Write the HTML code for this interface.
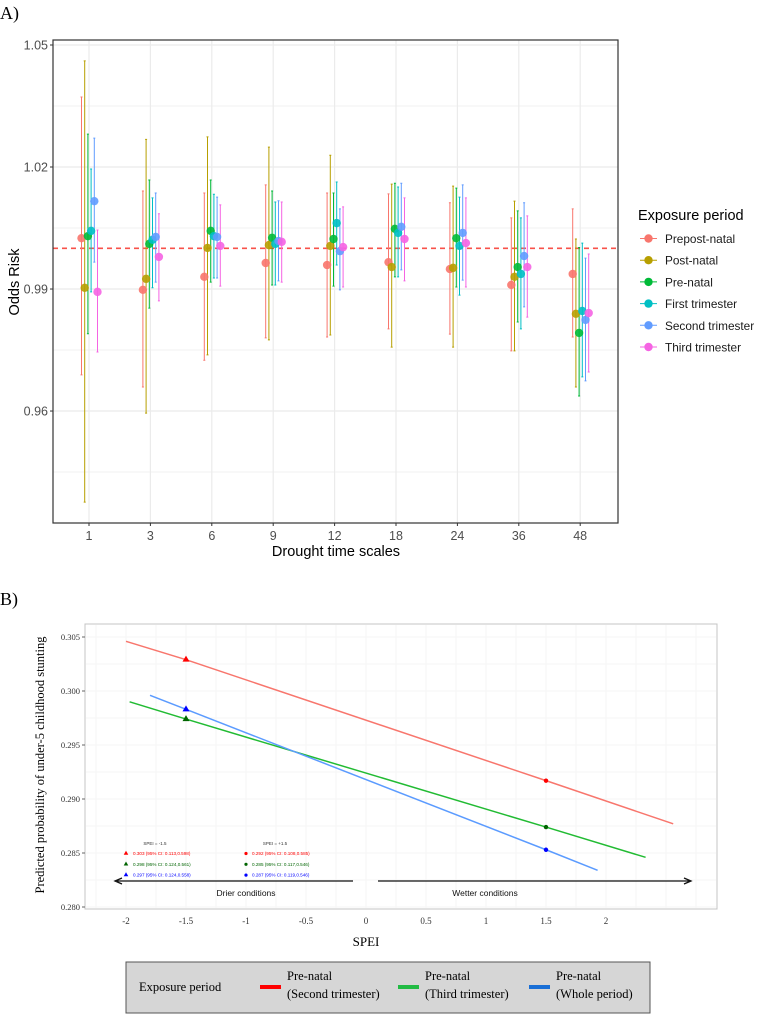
<!DOCTYPE html>
<html><head><meta charset="utf-8"><style>
html,body{margin:0;padding:0;background:#fff;}
svg{display:block;font-family:"Liberation Sans",sans-serif;}
.serif{font-family:"Liberation Serif",serif;}
</style></head><body>
<svg id="fig" width="757" height="1015" viewBox="0 0 757 1015" xmlns="http://www.w3.org/2000/svg">
<text class="serif" x="0" y="19" font-size="18" fill="#000">A)</text>
<text class="serif" x="0" y="605" font-size="18" fill="#000">B)</text>
<g id="gA"></g>
<g id="gB"></g>
</svg>
<script>
// ---- Panel A data ----
const catsA = ["1","3","6","9","12","18","24","36","48"];
const seriesA = ["Prepost-natal","Post-natal","Pre-natal","First trimester","Second trimester","Third trimester"];
const estPrepost = [1.0025,0.9898,0.9930,0.9964,0.9959,0.9966,0.9949,0.9910,0.9937];
const loPrepost  = [0.9689,0.9659,0.9725,0.9780,0.9782,0.9802,0.9789,0.9748,0.9782];
const hiPrepost  = [1.0372,1.0141,1.0136,1.0156,1.0136,1.0134,1.0112,1.0075,1.0097];
const estPost = [0.9903,0.9925,1.0001,1.0008,1.0006,0.9954,0.9952,0.9930,0.9839];
const loPost  = [0.9376,0.9595,0.9738,0.9775,0.9787,0.9757,0.9757,0.9748,0.9659];
const hiPost  = [1.0461,1.0268,1.0274,1.0249,1.0229,1.0158,1.0153,1.0116,1.0023];
const estPre = [1.0030,1.0011,1.0043,1.0026,1.0023,1.0048,1.0025,0.9954,0.9792];
const loPre  = [0.9790,0.9853,0.9917,0.9910,0.9907,0.9930,0.9905,0.9819,0.9637];
const hiPre  = [1.0281,1.0168,1.0168,1.0141,1.0136,1.0160,1.0148,1.0092,1.0002];
const estFirst = [1.0043,1.0021,1.0030,1.0011,1.0062,1.0038,1.0006,0.9937,0.9846];
const loFirst  = [0.9893,0.9903,0.9927,0.9910,0.9959,0.9930,0.9885,0.9802,0.9684];
const hiFirst  = [1.0195,1.0124,1.0133,1.0114,1.0163,1.0151,1.0126,1.0075,1.0013];
const estSecond = [1.0116,1.0028,1.0028,1.0018,0.9993,1.0053,1.0038,0.9981,0.9824];
const loSecond  = [0.9966,0.9917,0.9927,0.9920,0.9898,0.9947,0.9922,0.9856,0.9674];
const hiSecond  = [1.0271,1.0136,1.0126,1.0117,1.0097,1.0160,1.0156,1.0112,0.9976];
const estThird = [0.9893,0.9979,1.0006,1.0016,1.0003,1.0023,1.0013,0.9954,0.9841];
const loThird  = [0.9745,0.9871,0.9907,0.9917,0.9905,0.9920,0.9905,0.9831,0.9696];
const hiThird  = [1.0045,1.0085,1.0107,1.0114,1.0102,1.0124,1.0124,1.0080,0.9986];
const yTicksA = [0.96,0.99,1.02,1.05];
const yMinorA = [0.945,0.975,1.005,1.035];
const refA = 1.0;

// ---- Panel B data ----
const seriesB = ["Pre-natal (Second trimester)","Pre-natal (Third trimester)","Pre-natal (Whole period)"];
const xSecond = [-2.0,-1.5,1.5,2.56];
const ySecond = [0.3046,0.3029,0.2917,0.2877];
const xThird = [-1.97,-1.5,1.5,2.33];
const yThird = [0.2990,0.2974,0.2874,0.2846];
const xWhole = [-1.8,-1.5,1.5,1.93];
const yWhole = [0.2996,0.2983,0.2853,0.2834];
const xTicksB = [-2,-1.5,-1,-0.5,0,0.5,1,1.5,2];
const xTickLabelsB = ["-2","-1.5","-1","-0.5","0","0.5","1","1.5","2"];
const yTicksB = [0.280,0.285,0.290,0.295,0.300,0.305];
const yTickLabelsB = ["0.280","0.285","0.290","0.295","0.300","0.305"];
const annLeft = ["0.303 (95% CI: 0.113,0.598)","0.298 (95% CI: 0.124,0.561)","0.297 (95% CI: 0.124,0.558)"];
const annRight = ["0.292 (95% CI: 0.108,0.585)","0.285 (95% CI: 0.117,0.546)","0.287 (95% CI: 0.119,0.546)"];

const NS="http://www.w3.org/2000/svg";
function mk(tag,attrs,parent,text){const e=document.createElementNS(NS,tag);for(const k in attrs)e.setAttribute(k,attrs[k]);if(text!==undefined)e.textContent=text;parent.appendChild(e);return e;}

// ===== Panel A =====
(function(){
const g=document.getElementById('gA');
const L=53,R=618,T=40,B=523;
const yA=v=>45+(1.05-v)*4067;
const xA=i=>89+61.4*i;
mk('rect',{x:L,y:T,width:R-L,height:B-T,fill:'#fff'},g);
yMinorA.forEach(v=>{const l=mk('line',{x1:L,x2:R,y1:yA(v),y2:yA(v),stroke:'#f2f2f2','stroke-width':1},g);});
yTicksA.forEach(v=>{const l=mk('line',{x1:L,x2:R,y1:yA(v),y2:yA(v),stroke:'#ebebeb','stroke-width':1.2},g);});
catsA.forEach((c,i)=>{const l=mk('line',{x1:xA(i),x2:xA(i),y1:T,y2:B,stroke:'#ebebeb','stroke-width':1.2},g);});
const ref=mk('line',{x1:L,x2:R,y1:yA(refA),y2:yA(refA),stroke:'#f8524a','stroke-width':1.6,'stroke-dasharray':'5,4'},g);


const colors=['#F8766D','#B79F00','#00BA38','#00BFC4','#619CFF','#F564E3'];
const est=[estPrepost,estPost,estPre,estFirst,estSecond,estThird];
const lo=[loPrepost,loPost,loPre,loFirst,loSecond,loThird];
const hi=[hiPrepost,hiPost,hiPre,hiFirst,hiSecond,hiThird];
for(let s=0;s<6;s++){
  for(let i=0;i<catsA.length;i++){
    const x=xA(i)+(s-2.5)*3.2+0.5;
    const eb=mk('path',{d:`M${x-1},${yA(hi[s][i])}H${x+1}M${x},${yA(hi[s][i])}V${yA(lo[s][i])}M${x-1},${yA(lo[s][i])}H${x+1}`,stroke:colors[s],'stroke-width':1,fill:'none'},g);
    
    
  }
}
for(let s=0;s<6;s++){
  for(let i=0;i<catsA.length;i++){
    const x=xA(i)+(s-2.5)*3.2+0.5;
    const p=mk('circle',{cx:x,cy:yA(est[s][i]),r:4.2,fill:colors[s],'fill-opacity':0.9},g);
    
    
  }
}
const fr=mk('rect',{x:L,y:T,width:R-L,height:B-T,fill:'none',stroke:'#333','stroke-width':1.2},g);


yTicksA.forEach(v=>{
  mk('line',{x1:L-3,x2:L,y1:yA(v),y2:yA(v),stroke:'#333'},g);
  const t=mk('text',{x:L-5,y:yA(v)+4.5,'text-anchor':'end','font-size':12.5,fill:'#4d4d4d'},g,v.toFixed(2));
  
  
});
catsA.forEach((c,i)=>{
  mk('line',{x1:xA(i),x2:xA(i),y1:B,y2:B+3,stroke:'#333'},g);
  const t=mk('text',{x:xA(i),y:B+17,'text-anchor':'middle','font-size':12.5,fill:'#4d4d4d'},g,c);
  
  
});
const xt=mk('text',{x:336,y:556,'text-anchor':'middle','font-size':14.5,fill:'#000'},g,'Drought time scales');


const yt=mk('text',{x:0,y:0,'text-anchor':'middle','font-size':14.5,fill:'#000',transform:'translate(19,282) rotate(-90)'},g,'Odds Risk');


const lt=mk('text',{x:638,y:220,'font-size':14.5,fill:'#000'},g,'Exposure period');


seriesA.forEach((s,k)=>{
  const y=238.5+k*21.7;
  const le=mk('g',{},g);
  
  
  mk('line',{x1:640,x2:657,y1:y,y2:y,stroke:colors[k],'stroke-width':1},le);
  mk('circle',{cx:648.5,cy:y,r:4.2,fill:colors[k]},le);
  mk('text',{x:665,y:y+4.5,'font-size':11.8,fill:'#1a1a1a'},le,s);
});
})();

// ===== Panel B =====
(function(){
const g=document.getElementById('gB');
const L=85,R=717,T=624,B=909;
const xB=v=>366+120*v;
const yB=v=>637+(0.305-v)*10800;
mk('rect',{x:L,y:T,width:R-L,height:B-T,fill:'#fff',stroke:'#c4c4c4','stroke-width':1},g);
for(let v=0.2775;v<0.3075;v+=0.0025){const y=yB(v);if(y>T&&y<B){const l=mk('line',{x1:L+1,x2:R-1,y1:y,y2:y,stroke:'#f5f5f5','stroke-width':1},g);}}
for(let v=-2.5;v<=3;v+=0.25){const x=xB(v);if(x>L&&x<R){const l=mk('line',{x1:x,x2:x,y1:T+1,y2:B-1,stroke:'#f5f5f5','stroke-width':1},g);}}
const lc=['#f8766d','#22bb33','#5b9bff'];
const mc=['#ff0000','#006400','#0000ff'];
const xs=[xSecond,xThird,xWhole], ys=[ySecond,yThird,yWhole];
for(let s=0;s<3;s++){
  const pts=xs[s].map((x,i)=>xB(x)+','+yB(ys[s][i])).join(' ');
  const pl=mk('polyline',{points:pts,fill:'none',stroke:lc[s],'stroke-width':1.5},g);
  
  
}
for(let s=0;s<3;s++){
  const x1=xB(xs[s][1]),y1=yB(ys[s][1]);
  const tr=mk('path',{d:`M${x1},${y1-4}L${x1+3.5},${y1+2}L${x1-3.5},${y1+2}Z`,fill:mc[s]},g);
  
  
  const x2=xB(xs[s][2]),y2=yB(ys[s][2]);
  const dm=mk('circle',{cx:x2,cy:y2,r:2.2,fill:mc[s]},g);
  
  
}
const h1=mk('text',{x:155,y:845,'text-anchor':'middle','font-size':4.5,fill:'#333'},g,'SPEI = -1.5');


const h2=mk('text',{x:275,y:845,'text-anchor':'middle','font-size':4.5,fill:'#333'},g,'SPEI = +1.5');


for(let k=0;k<3;k++){
  const y=853.5+k*10.8;
  mk('path',{d:`M126,${y-2.8}L128.3,${y+1.2}L123.7,${y+1.2}Z`,fill:mc[k]},g);
  const a=mk('text',{x:133,y:y+1.5,'font-size':4.6,fill:mc[k]},g,annLeft[k]);
  
  
  mk('circle',{cx:246,cy:y,r:1.6,fill:mc[k]},g);
  const b=mk('text',{x:252,y:y+1.5,'font-size':4.6,fill:mc[k]},g,annRight[k]);
  
  
}
const a1=mk('path',{d:'M353,881H117M122,878L115,881L122,884',stroke:'#111','stroke-width':1.3,fill:'none'},g);


const a2=mk('path',{d:'M378,881H690M684,878L691,881L684,884',stroke:'#111','stroke-width':1.3,fill:'none'},g);


const d1=mk('text',{x:246,y:896,'text-anchor':'middle','font-size':8.5,fill:'#111'},g,'Drier conditions');


const d2=mk('text',{x:485,y:896,'text-anchor':'middle','font-size':8.5,fill:'#111'},g,'Wetter conditions');


yTicksB.forEach((v,i)=>{
  mk('line',{x1:L-3,x2:L,y1:yB(v),y2:yB(v),stroke:'#666'},g);
  const t=mk('text',{x:L-5,y:yB(v)+3,'text-anchor':'end','font-size':8.5,fill:'#333',class:'serif'},g,yTickLabelsB[i]);
  
  
});
xTicksB.forEach((v,i)=>{
  const t=mk('text',{x:xB(v),y:924,'text-anchor':'middle','font-size':9,fill:'#333',class:'serif'},g,xTickLabelsB[i]);
  
  
});
const xt=mk('text',{x:366,y:946,'text-anchor':'middle','font-size':13,fill:'#000',class:'serif'},g,'SPEI');


const yt=mk('text',{x:0,y:0,'text-anchor':'middle','font-size':12.5,fill:'#000',class:'serif',transform:'translate(44,765) rotate(-90)'},g,'Predicted probability of under-5 childhood stunting');


const lg=mk('g',{},g);


mk('rect',{x:126,y:962,width:524,height:51,fill:'#d6d6d6',stroke:'#555','stroke-width':1},lg);
mk('text',{x:139,y:991,'font-size':12.5,fill:'#000',class:'serif'},lg,'Exposure period');
const lcol=['#ff0000','#22bb44','#1a6fd6'];
const lx=[260,398,529];
const sub=['(Second trimester)','(Third trimester)','(Whole period)'];
for(let k=0;k<3;k++){
  const e=mk('g',{},lg);
  
  
  mk('rect',{x:lx[k],y:985,width:21,height:4,fill:lcol[k]},e);
  mk('text',{x:lx[k]+27,y:980,'font-size':12.5,fill:'#000',class:'serif'},e,'Pre-natal');
  mk('text',{x:lx[k]+27,y:998,'font-size':12.5,fill:'#000',class:'serif'},e,sub[k]);
}
})();
</script>
</body></html>
